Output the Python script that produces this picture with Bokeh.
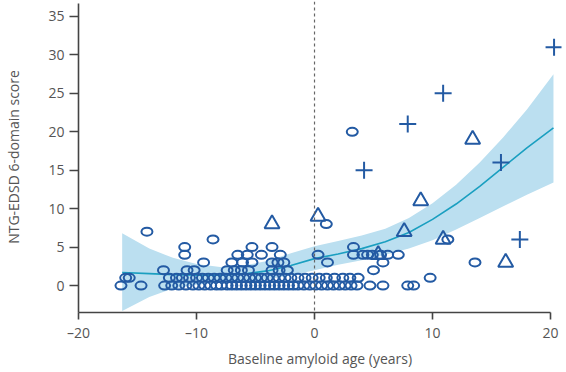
from bokeh.plotting import figure
from bokeh.models import Span, Range1d, FixedTicker
from bokeh.embed import file_html
from bokeh.resources import INLINE

# ---- data ----
circ_x0 = [-16.4, -14.7, -12.7, -12.1, -11.5, -10.9, -10.3, -9.8, -9.3, -8.8, -8.3, -7.9, -7.4, -7.0,
           -6.6, -6.2, -5.8, -5.4, -5.0, -4.6, -4.2, -3.8, -3.4, -3.0, -2.6, -2.2, -1.8, -1.4, -0.9,
           -0.4, 0.1, 0.6, 1.1, 1.6, 2.1, 2.6, 3.1, 3.6, 4.7, 5.8, 7.9, 8.4]
circ_x1 = [-16.0, -15.7, -12.3, -11.7, -11.2, -10.6, -10.0, -9.5, -9.0, -8.5, -8.0, -7.5, -7.0, -6.5,
           -6.0, -5.5, -5.0, -4.5, -4.0, -3.5, -3.0, -2.5, -2.0, -1.4, -0.8, -0.2, 0.4, 1.0, 1.7,
           2.4, 3.0, 3.7, 9.8]
circ_x2 = [-12.8, -10.8, -10.2, -7.4, -6.8, -6.2, -5.6, -3.6, -3.0, -2.3, 5.0]
circ_x3 = [-9.4, -7.0, -6.1, -5.3, -3.6, -3.1, -2.6, 1.1, 5.8, 13.6]
circ_x4 = [-11.0, -6.5, -5.7, -4.5, -2.9, 0.3, 3.3, 4.1, 4.5, 4.9, 5.6, 6.2, 7.1]
circ_x5 = [-11.0, -5.3, -3.6, 3.3]
circ_xhi = [-8.6, 11.3, -14.2, 1.0, 3.2]
circ_yhi = [6, 6, 7, 8, 20]

tri_x = [-3.6, 0.3, 7.6, 9.0, 10.9, 13.4, 16.2, 5.4]
tri_y = [8, 9, 7, 11, 6, 19, 3, 4]

plus_x = [4.2, 7.9, 10.9, 15.8, 17.4, 20.3]
plus_y = [15, 21, 25, 16, 6, 31]

fit_x = [-16.3, -14, -12, -10, -8, -6, -4, -2, 0, 2, 4, 6, 8, 10, 12, 14, 16, 18, 20.25]
fit_y = [1.7, 1.55, 1.42, 1.35, 1.35, 1.5, 1.9, 2.6, 3.5, 4.1, 4.8, 5.7, 6.9, 8.6, 10.6, 12.9, 15.4, 17.9, 20.5]
ci_upper = [6.8, 4.8, 3.6, 2.8, 2.4, 2.6, 3.2, 4.2, 5.1, 5.8, 6.5, 7.4, 8.8, 10.7, 13.1, 16.0, 19.3, 22.9, 27.5]
ci_lower = [-3.3, -1.5, -0.4, 0.1, 0.4, 0.5, 0.8, 1.3, 2.0, 2.7, 3.3, 4.0, 4.8, 5.9, 7.3, 8.8, 10.3, 11.8, 13.4]

x_ticks = [-20, -10, 0, 10, 20]
x_tick_labels = {-20: "\u201320", -10: "\u201310", 0: "0", 10: "10", 20: "20"}
y_ticks = [0, 5, 10, 15, 20, 25, 30, 35]

# ---- assemble circle arrays ----
cx, cy = [], []
for yv, xs in [(0, circ_x0), (1, circ_x1), (2, circ_x2), (3, circ_x3), (4, circ_x4), (5, circ_x5)]:
    cx += xs
    cy += [yv] * len(xs)
cx += circ_xhi
cy += circ_yhi

MARK = "#235aa3"
FIT = "#1a9fc0"
BAND = "#bbdff0"
AXIS = "#444444"
TXT = "#555555"
FONT = "Open Sans"

p = figure(width=566, height=372, output_backend="svg", toolbar_location=None,
           x_range=Range1d(-20, 20.93), y_range=Range1d(-3.51, 36.95),
           min_border_left=78, min_border_right=5, min_border_top=1, min_border_bottom=60)
p.outline_line_color = None
p.grid.visible = False
p.background_fill_color = "white"

p.varea(x=fit_x, y1=ci_lower, y2=ci_upper, fill_color=BAND, fill_alpha=1.0)
p.line(fit_x, fit_y, line_color=FIT, line_width=1.6)

p.add_layout(Span(location=0, dimension="height", line_color="#666666",
                  line_dash="3 3", line_width=1.2))

p.ellipse(x=cx, y=cy, width=11, height=8, width_units="screen", height_units="screen",
          fill_color=None, line_color=MARK, line_width=2)
p.scatter(tri_x, tri_y, marker="triangle", size=15, fill_color=None,
          line_color=MARK, line_width=2)
p.scatter(plus_x, plus_y, marker="cross", size=17, fill_color=None,
          line_color=MARK, line_width=2)

# axes
xa = p.xaxis[0]
xa.ticker = FixedTicker(ticks=x_ticks)
xa.major_label_overrides = x_tick_labels
xa.axis_label = "Baseline amyloid age (years)"
xa.bounds = (-20, 20)
ya = p.yaxis[0]
ya.ticker = FixedTicker(ticks=y_ticks)
ya.axis_label = "NTG-EDSD 6-domain score"
ya.bounds = (-3.51, 36.7)

for ax in (xa, ya):
    ax.axis_line_color = AXIS
    ax.axis_line_width = 1.6
    ax.major_tick_line_color = AXIS
    ax.major_tick_line_width = 1.6
    ax.major_tick_in = 0
    ax.minor_tick_line_color = None
    ax.major_label_text_font = FONT
    ax.major_label_text_font_size = "14px"
    ax.major_label_text_color = TXT
    ax.axis_label_text_font = FONT
    ax.axis_label_text_font_size = "14px"
    ax.axis_label_text_font_style = "normal"
    ax.axis_label_text_color = TXT

xa.major_tick_out = 7
xa.major_label_standoff = 3
xa.axis_label_standoff = 4
ya.major_tick_out = 9
ya.major_label_standoff = 5
ya.axis_label_standoff = 22

open("out.html", "w").write(file_html(p, INLINE))
